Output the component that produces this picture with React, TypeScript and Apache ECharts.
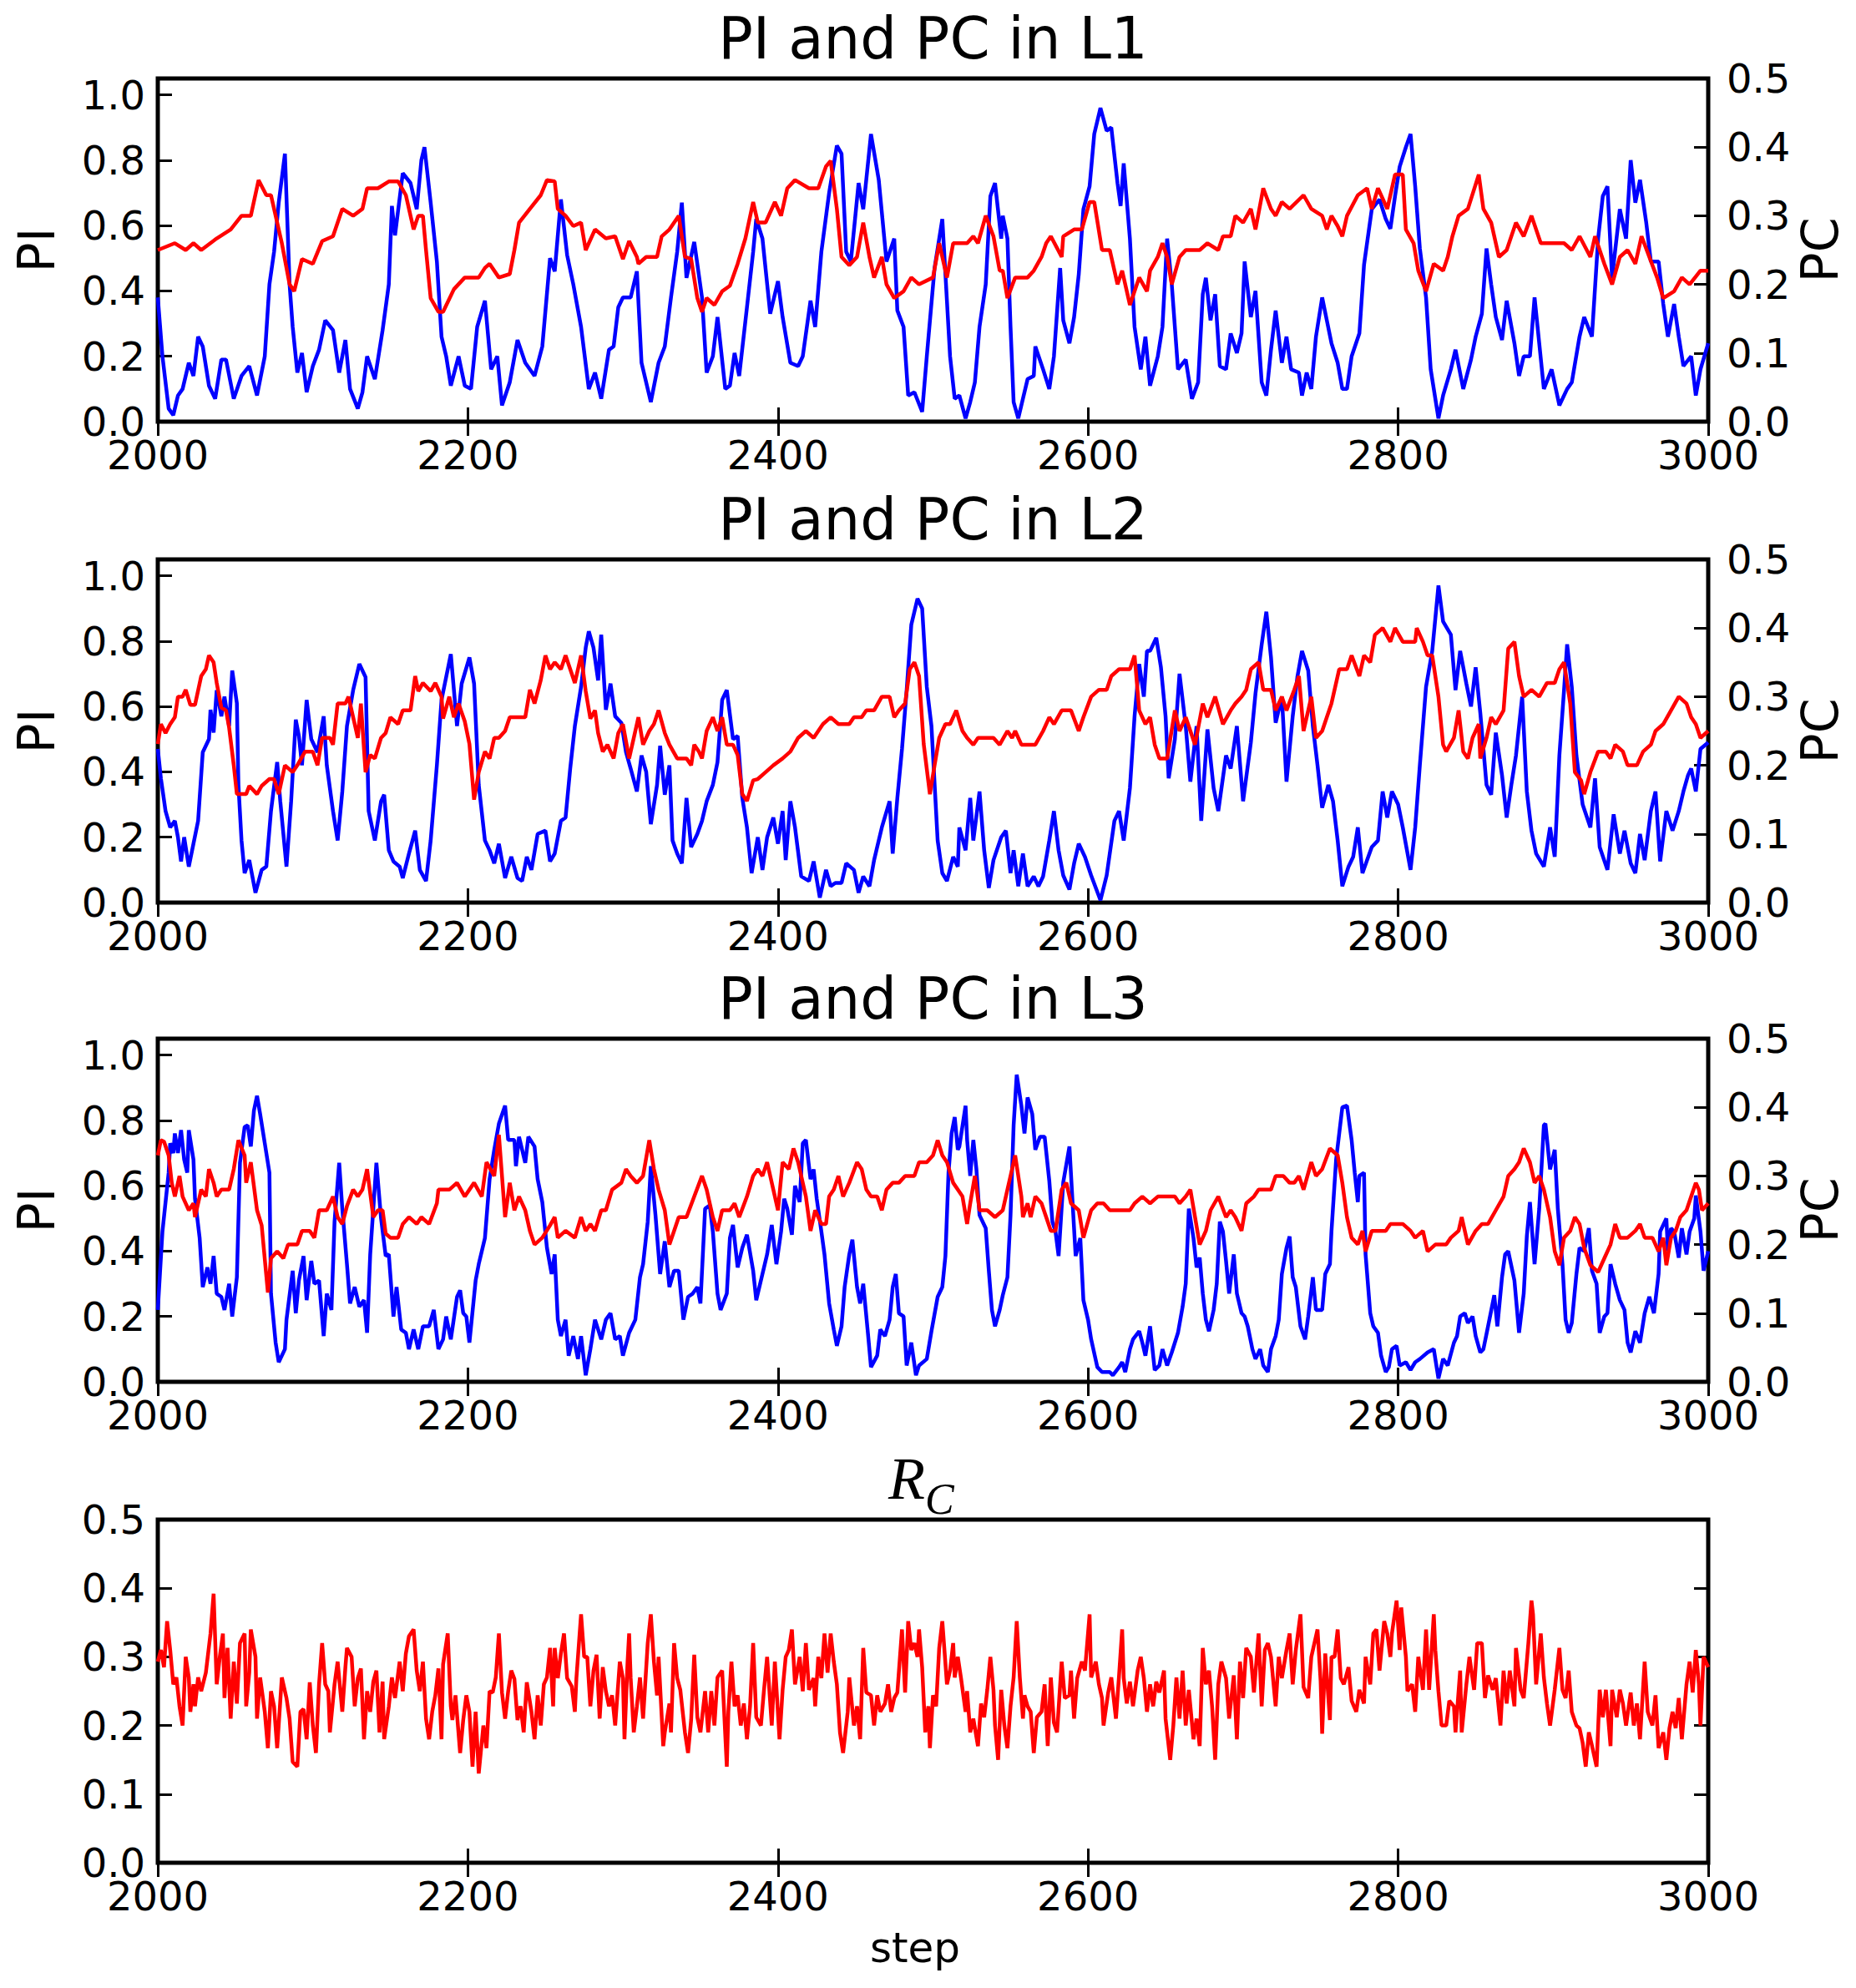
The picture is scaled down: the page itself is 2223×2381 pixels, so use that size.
import React, { useEffect, useRef } from "react";
import * as echarts from "echarts";

type P = [number, number];

// ---- Panel titles / labels ----
const TITLES = ["PI and PC in L1", "PI and PC in L2", "PI and PC in L3"];
const LEFT_LABEL = "PI";
const RIGHT_LABEL = "PC";
const X_LABEL = "step";

// ---- L1 ----
const L1_PI: P[] = [
  [2000,0.38],[2003,0.2],[2007,0.04],[2010,0.02],[2013,0.08],[2016,0.10],[2020,0.18],[2023,0.14],[2026,0.26],[2029,0.23],
  [2033,0.11],[2037,0.07],[2041,0.19],[2044,0.19],[2049,0.07],[2054,0.14],[2059,0.17],[2064,0.08],[2069,0.2],[2072,0.42],
  [2075,0.52],[2078,0.67],[2082,0.82],[2085,0.42],[2087,0.29],[2090,0.15],[2093,0.21],[2096,0.09],[2100,0.17],[2104,0.22],
  [2108,0.31],[2113,0.28],[2117,0.15],[2121,0.25],[2124,0.1],[2129,0.04],[2132,0.09],[2135,0.2],[2140,0.13],[2145,0.28],
  [2149,0.42],[2151,0.66],[2153,0.57],[2158,0.76],[2163,0.73],[2167,0.65],[2170,0.80],[2172,0.84],[2176,0.67],[2180,0.49],
  [2183,0.26],[2186,0.2],[2189,0.11],[2194,0.2],[2198,0.11],[2202,0.1],[2206,0.29],[2211,0.37],[2215,0.16],[2219,0.2],
  [2222,0.05],[2227,0.12],[2232,0.25],[2237,0.18],[2243,0.14],[2248,0.23],[2253,0.5],[2256,0.46],[2260,0.68],[2264,0.51],
  [2268,0.42],[2273,0.29],[2278,0.1],[2282,0.15],[2286,0.07],[2291,0.22],[2294,0.23],[2297,0.35],[2300,0.38],[2305,0.38],
  [2309,0.46],[2312,0.18],[2318,0.06],[2323,0.18],[2327,0.23],[2331,0.38],[2335,0.52],[2338,0.67],[2341,0.44],[2346,0.55],
  [2351,0.38],[2354,0.15],[2358,0.2],[2361,0.32],[2366,0.1],[2369,0.11],[2372,0.21],[2375,0.14],[2380,0.35],[2384,0.52],
  [2386,0.62],[2390,0.56],[2395,0.33],[2400,0.43],[2403,0.32],[2408,0.18],[2413,0.17],[2416,0.2],[2421,0.37],[2424,0.29],
  [2428,0.52],[2433,0.70],[2438,0.845],[2441,0.82],[2444,0.52],[2447,0.49],[2452,0.73],[2455,0.65],[2460,0.88],[2465,0.74],
  [2470,0.49],[2475,0.56],[2477,0.34],[2481,0.29],[2484,0.08],[2488,0.09],[2493,0.03],[2496,0.2],[2501,0.47],[2506,0.62],
  [2511,0.2],[2514,0.07],[2517,0.08],[2521,0.01],[2524,0.06],[2527,0.12],[2530,0.29],[2534,0.42],[2537,0.69],[2540,0.73],
  [2544,0.56],[2545,0.63],[2548,0.56],[2550,0.29],[2552,0.06],[2555,0.01],[2558,0.07],[2561,0.13],[2565,0.14],[2566,0.23],
  [2571,0.16],[2575,0.1],[2578,0.2],[2582,0.47],[2584,0.31],[2588,0.24],[2591,0.32],[2594,0.45],[2597,0.65],[2601,0.72],
  [2604,0.88],[2608,0.96],[2612,0.89],[2615,0.90],[2619,0.73],[2621,0.66],[2623,0.79],[2627,0.56],[2630,0.29],[2634,0.16],
  [2637,0.26],[2640,0.11],[2645,0.2],[2648,0.29],[2651,0.56],[2654,0.42],[2658,0.16],[2663,0.19],[2667,0.07],[2671,0.12],
  [2674,0.39],[2676,0.44],[2679,0.31],[2682,0.39],[2685,0.17],[2689,0.16],[2692,0.27],[2696,0.21],[2699,0.27],[2701,0.49],
  [2705,0.32],[2708,0.40],[2712,0.12],[2715,0.08],[2718,0.22],[2721,0.34],[2725,0.18],[2728,0.26],[2731,0.16],[2736,0.15],
  [2738,0.08],[2741,0.15],[2744,0.1],[2747,0.26],[2751,0.38],[2754,0.31],[2757,0.24],[2761,0.18],[2764,0.1],[2767,0.1],
  [2770,0.2],[2775,0.27],[2778,0.48],[2783,0.65],[2788,0.68],[2792,0.62],[2795,0.59],[2798,0.69],[2801,0.78],[2805,0.84],
  [2808,0.88],[2811,0.72],[2814,0.53],[2818,0.38],[2821,0.16],[2826,0.01],[2829,0.08],[2834,0.16],[2837,0.22],[2842,0.1],
  [2847,0.19],[2850,0.26],[2854,0.33],[2857,0.53],[2860,0.42],[2863,0.32],[2867,0.25],[2870,0.37],[2875,0.24],[2878,0.14],
  [2881,0.2],[2885,0.2],[2888,0.38],[2891,0.24],[2894,0.1],[2899,0.16],[2904,0.05],[2909,0.1],[2912,0.12],[2917,0.26],
  [2920,0.32],[2925,0.26],[2929,0.56],[2932,0.69],[2935,0.72],[2938,0.44],[2943,0.65],[2947,0.56],[2950,0.80],[2953,0.67],
  [2956,0.74],[2960,0.61],[2963,0.49],[2968,0.49],[2971,0.36],[2974,0.26],[2978,0.36],[2981,0.26],[2984,0.17],[2989,0.2],
  [2992,0.08],[2995,0.16],[3000,0.24]
];
const L1_PC: P[] = [
  [2000,0.25],[2011,0.26],[2018,0.25],[2023,0.26],[2028,0.25],[2038,0.267],[2047,0.28],[2054,0.30],[2060,0.30],[2065,0.352],
  [2070,0.33],[2073,0.33],[2080,0.26],[2085,0.20],[2088,0.19],[2093,0.237],[2100,0.23],[2106,0.263],[2113,0.27],[2119,0.31],
  [2126,0.30],[2132,0.31],[2135,0.34],[2142,0.34],[2149,0.35],[2155,0.35],[2160,0.33],[2165,0.28],[2168,0.30],[2171,0.30],
  [2173,0.25],[2176,0.18],[2181,0.16],[2184,0.16],[2191,0.193],[2198,0.21],[2207,0.21],[2211,0.224],[2214,0.23],[2220,0.21],
  [2227,0.215],[2230,0.25],[2233,0.29],[2240,0.31],[2247,0.33],[2251,0.352],[2256,0.35],[2258,0.31],[2263,0.30],[2268,0.285],
  [2273,0.29],[2276,0.25],[2282,0.28],[2289,0.267],[2295,0.27],[2300,0.237],[2304,0.263],[2309,0.24],[2310,0.23],[2315,0.24],
  [2322,0.24],[2325,0.27],[2330,0.28],[2336,0.30],[2340,0.24],[2344,0.237],[2348,0.18],[2351,0.16],[2354,0.18],[2359,0.17],
  [2364,0.19],[2369,0.198],[2374,0.23],[2379,0.267],[2384,0.32],[2387,0.29],[2392,0.29],[2398,0.32],[2402,0.30],[2406,0.34],
  [2411,0.352],[2420,0.34],[2426,0.34],[2431,0.372],[2434,0.38],[2438,0.31],[2441,0.24],[2446,0.228],[2451,0.24],[2455,0.29],
  [2459,0.24],[2462,0.21],[2467,0.24],[2470,0.2],[2475,0.18],[2481,0.19],[2486,0.21],[2491,0.20],[2500,0.21],[2504,0.26],
  [2509,0.21],[2513,0.26],[2522,0.26],[2526,0.27],[2529,0.26],[2534,0.30],[2539,0.27],[2543,0.22],[2545,0.22],[2548,0.18],
  [2553,0.21],[2561,0.21],[2565,0.22],[2570,0.24],[2573,0.26],[2576,0.27],[2583,0.24],[2584,0.27],[2591,0.28],[2596,0.28],
  [2601,0.32],[2604,0.32],[2609,0.25],[2614,0.25],[2619,0.20],[2622,0.22],[2627,0.17],[2633,0.21],[2638,0.19],[2640,0.22],
  [2645,0.24],[2648,0.26],[2651,0.24],[2654,0.20],[2659,0.24],[2663,0.25],[2672,0.25],[2677,0.26],[2684,0.25],[2687,0.27],
  [2692,0.27],[2695,0.30],[2700,0.29],[2705,0.31],[2708,0.28],[2713,0.34],[2718,0.31],[2721,0.30],[2725,0.32],[2730,0.31],
  [2739,0.33],[2744,0.31],[2751,0.30],[2754,0.28],[2757,0.30],[2761,0.285],[2764,0.27],[2767,0.30],[2774,0.33],[2780,0.34],
  [2783,0.31],[2787,0.34],[2793,0.31],[2798,0.36],[2803,0.36],[2805,0.28],[2810,0.26],[2813,0.22],[2818,0.19],[2823,0.23],
  [2829,0.22],[2832,0.24],[2835,0.27],[2839,0.30],[2845,0.31],[2852,0.36],[2855,0.31],[2860,0.29],[2865,0.24],[2870,0.25],
  [2876,0.29],[2881,0.27],[2886,0.30],[2892,0.26],[2899,0.26],[2907,0.26],[2912,0.25],[2917,0.27],[2924,0.24],[2927,0.27],
  [2933,0.23],[2938,0.20],[2943,0.24],[2948,0.25],[2953,0.23],[2957,0.27],[2962,0.24],[2967,0.21],[2971,0.18],[2978,0.19],
  [2983,0.21],[2988,0.20],[2995,0.22],[3000,0.22]
];

// ---- L2 ----
const L2_PI: P[] = [
  [2000,0.47],[2002,0.38],[2005,0.28],[2008,0.23],[2011,0.25],[2013,0.20],[2015,0.126],[2017,0.20],[2020,0.11],[2023,0.18],
  [2026,0.25],[2029,0.46],[2033,0.50],[2034,0.59],[2036,0.52],[2038,0.65],[2041,0.57],[2043,0.63],[2046,0.54],[2048,0.71],
  [2051,0.61],[2052,0.36],[2054,0.19],[2056,0.09],[2059,0.13],[2063,0.03],[2067,0.10],[2070,0.11],[2073,0.28],[2077,0.43],
  [2079,0.31],[2083,0.11],[2086,0.31],[2089,0.56],[2091,0.51],[2093,0.42],[2096,0.62],[2099,0.50],[2103,0.46],[2107,0.57],
  [2109,0.42],[2113,0.28],[2116,0.19],[2119,0.34],[2122,0.54],[2126,0.65],[2130,0.73],[2134,0.69],[2136,0.28],[2140,0.19],
  [2144,0.31],[2146,0.33],[2149,0.16],[2152,0.126],[2156,0.11],[2158,0.075],[2162,0.15],[2166,0.22],[2169,0.10],[2173,0.066],
  [2176,0.19],[2180,0.42],[2183,0.62],[2186,0.69],[2189,0.76],[2193,0.54],[2196,0.67],[2201,0.75],[2204,0.67],[2207,0.36],
  [2211,0.19],[2214,0.16],[2217,0.12],[2220,0.18],[2224,0.075],[2228,0.14],[2232,0.075],[2235,0.066],[2238,0.14],[2241,0.10],
  [2245,0.21],[2250,0.22],[2253,0.126],[2256,0.15],[2260,0.25],[2263,0.26],[2266,0.41],[2269,0.54],[2273,0.66],[2276,0.78],
  [2278,0.83],[2281,0.78],[2284,0.68],[2286,0.82],[2289,0.59],[2292,0.67],[2295,0.57],[2299,0.55],[2302,0.46],[2305,0.41],
  [2309,0.34],[2312,0.45],[2315,0.40],[2318,0.24],[2322,0.36],[2324,0.48],[2327,0.33],[2330,0.42],[2332,0.19],[2335,0.15],
  [2338,0.12],[2341,0.32],[2344,0.17],[2348,0.21],[2351,0.25],[2354,0.31],[2358,0.36],[2361,0.43],[2364,0.62],[2367,0.65],
  [2371,0.50],[2374,0.51],[2377,0.32],[2380,0.23],[2383,0.09],[2387,0.20],[2390,0.10],[2393,0.20],[2397,0.26],[2400,0.18],
  [2403,0.28],[2405,0.13],[2408,0.31],[2411,0.23],[2415,0.08],[2420,0.066],[2423,0.126],[2427,0.015],[2431,0.10],[2434,0.05],
  [2437,0.06],[2441,0.06],[2444,0.12],[2449,0.10],[2452,0.03],[2455,0.08],[2459,0.05],[2462,0.13],[2467,0.23],[2472,0.31],
  [2474,0.15],[2477,0.32],[2480,0.47],[2483,0.65],[2486,0.85],[2490,0.93],[2493,0.90],[2496,0.66],[2499,0.54],[2503,0.19],
  [2506,0.09],[2509,0.066],[2513,0.14],[2516,0.11],[2517,0.23],[2521,0.16],[2524,0.32],[2526,0.19],[2530,0.34],[2533,0.16],
  [2536,0.045],[2539,0.13],[2544,0.20],[2547,0.22],[2550,0.09],[2552,0.16],[2555,0.05],[2558,0.15],[2561,0.05],[2565,0.08],
  [2568,0.05],[2571,0.08],[2575,0.19],[2578,0.28],[2581,0.16],[2584,0.083],[2588,0.04],[2591,0.12],[2594,0.18],[2598,0.14],
  [2602,0.083],[2608,0.007],[2612,0.083],[2617,0.25],[2620,0.28],[2623,0.19],[2627,0.35],[2630,0.57],[2633,0.73],[2636,0.63],
  [2638,0.77],[2640,0.77],[2644,0.81],[2647,0.72],[2650,0.57],[2652,0.38],[2656,0.50],[2659,0.70],[2663,0.54],[2666,0.37],
  [2670,0.54],[2673,0.25],[2677,0.53],[2681,0.35],[2684,0.28],[2689,0.45],[2692,0.41],[2696,0.54],[2700,0.31],[2705,0.49],
  [2708,0.64],[2712,0.79],[2715,0.89],[2718,0.75],[2721,0.55],[2725,0.63],[2728,0.37],[2732,0.57],[2735,0.69],[2738,0.77],
  [2742,0.71],[2745,0.54],[2748,0.42],[2751,0.29],[2755,0.36],[2758,0.31],[2761,0.19],[2764,0.05],[2768,0.11],[2771,0.14],
  [2774,0.23],[2777,0.09],[2780,0.13],[2783,0.17],[2787,0.19],[2790,0.34],[2793,0.26],[2796,0.34],[2800,0.30],[2803,0.23],
  [2808,0.10],[2811,0.23],[2814,0.42],[2818,0.66],[2822,0.77],[2826,0.97],[2829,0.86],[2834,0.82],[2837,0.65],[2840,0.77],
  [2844,0.67],[2847,0.60],[2850,0.72],[2853,0.58],[2857,0.36],[2860,0.33],[2863,0.52],[2867,0.39],[2870,0.26],[2873,0.36],
  [2876,0.45],[2880,0.63],[2883,0.34],[2886,0.22],[2889,0.15],[2894,0.11],[2898,0.23],[2901,0.14],[2904,0.45],[2907,0.65],
  [2909,0.79],[2912,0.66],[2915,0.45],[2919,0.30],[2924,0.23],[2927,0.38],[2930,0.17],[2935,0.10],[2939,0.27],[2943,0.15],
  [2946,0.22],[2950,0.12],[2953,0.09],[2956,0.21],[2959,0.13],[2963,0.28],[2966,0.34],[2969,0.126],[2973,0.28],[2977,0.22],
  [2981,0.28],[2984,0.34],[2987,0.39],[2989,0.41],[2992,0.34],[2995,0.47],[3000,0.49]
];
const L2_PC: P[] = [
  [2000,0.231],[2002,0.26],[2005,0.247],[2008,0.26],[2011,0.27],[2013,0.30],[2016,0.30],[2018,0.31],[2021,0.288],[2024,0.288],
  [2028,0.33],[2031,0.34],[2033,0.36],[2036,0.35],[2038,0.32],[2041,0.284],[2044,0.28],[2046,0.255],[2049,0.20],[2051,0.158],
  [2057,0.158],[2059,0.17],[2064,0.158],[2067,0.17],[2072,0.18],[2075,0.18],[2078,0.158],[2082,0.20],[2087,0.19],[2090,0.20],
  [2095,0.22],[2100,0.22],[2103,0.20],[2106,0.24],[2111,0.24],[2113,0.23],[2116,0.29],[2121,0.29],[2123,0.30],[2126,0.27],
  [2129,0.24],[2131,0.29],[2134,0.19],[2137,0.215],[2140,0.21],[2144,0.24],[2147,0.247],[2150,0.27],[2155,0.26],[2158,0.28],
  [2163,0.28],[2166,0.33],[2168,0.308],[2171,0.32],[2176,0.308],[2179,0.32],[2183,0.30],[2184,0.268],[2188,0.30],[2191,0.27],
  [2194,0.29],[2198,0.264],[2201,0.231],[2204,0.15],[2207,0.19],[2211,0.22],[2214,0.21],[2217,0.24],[2220,0.24],[2224,0.25],
  [2227,0.27],[2237,0.27],[2240,0.31],[2243,0.29],[2247,0.324],[2250,0.36],[2253,0.34],[2256,0.35],[2260,0.34],[2263,0.36],
  [2266,0.34],[2269,0.32],[2273,0.36],[2276,0.308],[2279,0.268],[2282,0.28],[2284,0.247],[2287,0.22],[2290,0.23],[2294,0.21],
  [2297,0.247],[2300,0.26],[2304,0.21],[2307,0.24],[2310,0.27],[2313,0.23],[2317,0.25],[2320,0.26],[2323,0.28],[2327,0.247],
  [2330,0.23],[2335,0.21],[2341,0.21],[2344,0.20],[2346,0.23],[2349,0.22],[2351,0.21],[2354,0.25],[2358,0.27],[2361,0.25],
  [2364,0.27],[2367,0.23],[2371,0.23],[2374,0.215],[2377,0.158],[2380,0.148],[2384,0.178],[2387,0.18],[2392,0.19],[2397,0.20],
  [2403,0.21],[2408,0.22],[2413,0.24],[2418,0.25],[2423,0.24],[2426,0.25],[2429,0.26],[2434,0.27],[2439,0.26],[2446,0.26],
  [2449,0.27],[2454,0.27],[2457,0.28],[2462,0.28],[2467,0.30],[2472,0.30],[2475,0.27],[2478,0.28],[2482,0.29],[2485,0.34],
  [2488,0.35],[2491,0.33],[2494,0.231],[2498,0.158],[2501,0.20],[2504,0.24],[2508,0.26],[2511,0.26],[2515,0.28],[2519,0.25],
  [2522,0.24],[2526,0.23],[2529,0.24],[2539,0.24],[2543,0.23],[2548,0.25],[2551,0.24],[2553,0.25],[2557,0.23],[2566,0.23],
  [2571,0.25],[2575,0.27],[2578,0.26],[2583,0.28],[2589,0.28],[2594,0.25],[2597,0.27],[2602,0.30],[2607,0.31],[2612,0.31],
  [2615,0.33],[2620,0.34],[2627,0.34],[2630,0.36],[2633,0.28],[2637,0.26],[2640,0.27],[2643,0.23],[2646,0.21],[2651,0.21],
  [2656,0.28],[2659,0.25],[2663,0.27],[2666,0.25],[2669,0.23],[2674,0.29],[2677,0.27],[2682,0.30],[2687,0.26],[2692,0.28],
  [2695,0.29],[2699,0.30],[2702,0.31],[2705,0.34],[2710,0.35],[2713,0.31],[2718,0.31],[2721,0.28],[2725,0.30],[2728,0.28],
  [2733,0.31],[2736,0.33],[2739,0.25],[2744,0.30],[2747,0.24],[2751,0.25],[2754,0.27],[2757,0.29],[2762,0.34],[2767,0.34],
  [2770,0.36],[2775,0.33],[2778,0.36],[2782,0.35],[2785,0.39],[2790,0.40],[2795,0.38],[2798,0.40],[2803,0.38],[2811,0.38],
  [2812,0.40],[2816,0.38],[2819,0.36],[2822,0.36],[2826,0.30],[2829,0.23],[2831,0.22],[2836,0.24],[2839,0.28],[2842,0.22],
  [2845,0.21],[2848,0.24],[2852,0.26],[2853,0.21],[2857,0.24],[2860,0.27],[2863,0.26],[2868,0.28],[2871,0.37],[2875,0.38],
  [2878,0.33],[2881,0.30],[2886,0.31],[2891,0.30],[2896,0.32],[2901,0.32],[2904,0.34],[2907,0.35],[2911,0.29],[2914,0.19],
  [2918,0.178],[2920,0.158],[2924,0.19],[2929,0.22],[2934,0.22],[2937,0.21],[2940,0.23],[2945,0.22],[2948,0.20],[2954,0.20],
  [2958,0.22],[2963,0.23],[2966,0.25],[2971,0.26],[2976,0.28],[2981,0.30],[2986,0.29],[2989,0.27],[2992,0.26],[2995,0.24],
  [3000,0.25]
];

// ---- L3 ----
const L3_PI: P[] = [
  [2000,0.22],[2003,0.46],[2007,0.64],[2008,0.73],[2010,0.70],[2011,0.76],[2013,0.70],[2015,0.77],[2017,0.68],[2019,0.64],
  [2020,0.77],[2023,0.68],[2024,0.56],[2027,0.44],[2029,0.29],[2032,0.35],[2034,0.30],[2036,0.385],[2038,0.27],[2041,0.26],
  [2043,0.22],[2046,0.30],[2048,0.20],[2051,0.32],[2053,0.67],[2056,0.78],[2058,0.785],[2060,0.72],[2062,0.83],[2064,0.875],
  [2066,0.82],[2069,0.73],[2072,0.64],[2073,0.27],[2076,0.12],[2078,0.06],[2082,0.10],[2083,0.19],[2087,0.34],[2089,0.21],
  [2091,0.31],[2094,0.385],[2096,0.25],[2099,0.37],[2101,0.30],[2104,0.31],[2107,0.14],[2109,0.27],[2112,0.22],[2114,0.49],
  [2117,0.67],[2119,0.53],[2122,0.36],[2124,0.24],[2127,0.29],[2130,0.23],[2133,0.25],[2135,0.15],[2137,0.39],[2139,0.53],
  [2141,0.67],[2144,0.50],[2147,0.385],[2149,0.39],[2152,0.20],[2154,0.29],[2157,0.16],[2160,0.15],[2162,0.10],[2165,0.16],
  [2168,0.10],[2171,0.17],[2175,0.17],[2178,0.22],[2181,0.10],[2184,0.13],[2186,0.20],[2189,0.13],[2193,0.26],[2195,0.28],
  [2197,0.21],[2199,0.20],[2201,0.12],[2205,0.31],[2207,0.36],[2211,0.44],[2214,0.62],[2217,0.71],[2220,0.79],[2224,0.845],
  [2226,0.74],[2230,0.74],[2231,0.66],[2233,0.75],[2237,0.67],[2239,0.75],[2243,0.72],[2245,0.62],[2248,0.55],[2251,0.41],
  [2254,0.33],[2256,0.39],[2258,0.19],[2260,0.14],[2263,0.19],[2265,0.08],[2268,0.14],[2271,0.07],[2273,0.14],[2276,0.02],
  [2279,0.10],[2282,0.19],[2286,0.13],[2289,0.19],[2292,0.21],[2295,0.13],[2298,0.14],[2300,0.08],[2304,0.15],[2308,0.19],
  [2311,0.32],[2313,0.36],[2316,0.49],[2318,0.66],[2321,0.51],[2324,0.33],[2327,0.43],[2330,0.29],[2333,0.34],[2336,0.34],
  [2339,0.19],[2342,0.26],[2345,0.27],[2348,0.29],[2350,0.24],[2353,0.53],[2356,0.54],[2358,0.46],[2361,0.27],[2363,0.22],
  [2367,0.27],[2369,0.44],[2371,0.48],[2374,0.35],[2377,0.41],[2380,0.45],[2384,0.34],[2386,0.25],[2390,0.33],[2393,0.39],
  [2396,0.48],[2399,0.36],[2402,0.46],[2404,0.56],[2406,0.53],[2409,0.45],[2411,0.60],[2414,0.55],[2416,0.73],[2418,0.74],
  [2421,0.62],[2423,0.65],[2425,0.56],[2428,0.46],[2430,0.39],[2433,0.24],[2436,0.16],[2438,0.11],[2441,0.17],[2443,0.29],
  [2446,0.39],[2448,0.435],[2451,0.29],[2453,0.24],[2455,0.30],[2458,0.15],[2460,0.045],[2464,0.08],[2466,0.16],[2469,0.14],
  [2472,0.19],[2474,0.29],[2476,0.33],[2478,0.21],[2481,0.20],[2483,0.05],[2486,0.12],[2489,0.02],[2491,0.05],[2496,0.07],
  [2499,0.155],[2503,0.26],[2506,0.29],[2508,0.385],[2510,0.64],[2512,0.76],[2514,0.81],[2516,0.71],[2517,0.72],[2521,0.845],
  [2522,0.74],[2524,0.63],[2526,0.74],[2528,0.65],[2530,0.51],[2534,0.47],[2536,0.34],[2538,0.22],[2540,0.17],[2543,0.22],
  [2545,0.265],[2548,0.32],[2550,0.51],[2552,0.785],[2554,0.94],[2557,0.845],[2559,0.76],[2561,0.87],[2564,0.82],[2566,0.71],
  [2569,0.75],[2572,0.75],[2575,0.615],[2577,0.49],[2579,0.46],[2581,0.385],[2584,0.61],[2588,0.72],[2590,0.55],[2592,0.385],
  [2595,0.44],[2597,0.25],[2600,0.19],[2602,0.13],[2606,0.045],[2609,0.03],[2614,0.03],[2616,0.02],[2620,0.045],[2622,0.06],
  [2624,0.03],[2627,0.10],[2629,0.13],[2633,0.155],[2635,0.12],[2637,0.08],[2640,0.17],[2643,0.036],[2646,0.05],[2648,0.10],
  [2651,0.05],[2654,0.09],[2658,0.15],[2661,0.23],[2663,0.30],[2665,0.53],[2668,0.44],[2670,0.35],[2672,0.38],[2674,0.27],
  [2676,0.19],[2678,0.155],[2681,0.22],[2683,0.30],[2685,0.49],[2687,0.46],[2689,0.37],[2691,0.27],[2694,0.39],[2696,0.27],
  [2699,0.21],[2701,0.20],[2703,0.17],[2706,0.10],[2708,0.07],[2711,0.10],[2713,0.05],[2716,0.03],[2718,0.10],[2721,0.14],
  [2723,0.19],[2725,0.33],[2728,0.41],[2730,0.445],[2732,0.32],[2734,0.29],[2737,0.17],[2740,0.13],[2742,0.20],[2745,0.32],
  [2747,0.22],[2751,0.22],[2753,0.33],[2756,0.36],[2757,0.46],[2760,0.68],[2762,0.76],[2764,0.84],[2767,0.845],[2770,0.74],
  [2772,0.64],[2774,0.55],[2775,0.63],[2778,0.64],[2779,0.39],[2782,0.21],[2784,0.17],[2787,0.15],[2789,0.08],[2792,0.03],
  [2794,0.045],[2796,0.10],[2799,0.11],[2801,0.05],[2805,0.06],[2808,0.036],[2811,0.06],[2814,0.07],[2819,0.09],[2823,0.10],
  [2826,0.01],[2829,0.07],[2832,0.05],[2836,0.12],[2838,0.14],[2840,0.20],[2843,0.21],[2845,0.18],[2848,0.20],[2850,0.14],
  [2853,0.09],[2855,0.10],[2858,0.17],[2862,0.265],[2864,0.17],[2867,0.32],[2869,0.39],[2871,0.40],[2875,0.31],[2878,0.15],
  [2881,0.27],[2883,0.445],[2885,0.55],[2888,0.36],[2891,0.53],[2894,0.785],[2895,0.79],[2898,0.65],[2901,0.71],[2903,0.53],
  [2906,0.36],[2908,0.19],[2910,0.15],[2912,0.18],[2915,0.33],[2917,0.41],[2920,0.40],[2923,0.47],[2925,0.34],[2928,0.30],
  [2930,0.15],[2933,0.20],[2935,0.21],[2937,0.36],[2940,0.30],[2943,0.25],[2946,0.22],[2948,0.12],[2950,0.09],[2953,0.155],
  [2956,0.12],[2959,0.21],[2962,0.26],[2965,0.21],[2968,0.33],[2969,0.46],[2973,0.50],[2974,0.40],[2976,0.47],[2978,0.46],
  [2981,0.38],[2983,0.47],[2986,0.39],[2988,0.46],[2991,0.50],[2992,0.57],[2995,0.46],[2997,0.34],[3000,0.40]
];
const L3_PC: P[] = [
  [2000,0.33],[2002,0.352],[2004,0.35],[2007,0.33],[2009,0.29],[2011,0.27],[2014,0.30],[2016,0.27],[2020,0.25],[2023,0.26],
  [2024,0.24],[2028,0.28],[2031,0.27],[2033,0.31],[2036,0.29],[2038,0.27],[2041,0.28],[2046,0.28],[2049,0.31],[2052,0.352],
  [2056,0.33],[2057,0.29],[2060,0.32],[2064,0.25],[2067,0.228],[2071,0.13],[2073,0.18],[2077,0.19],[2081,0.18],[2084,0.20],
  [2090,0.20],[2093,0.22],[2098,0.22],[2101,0.21],[2104,0.25],[2109,0.25],[2113,0.27],[2116,0.24],[2119,0.23],[2122,0.256],
  [2126,0.28],[2129,0.27],[2132,0.28],[2135,0.31],[2139,0.24],[2142,0.25],[2145,0.25],[2147,0.216],[2150,0.21],[2155,0.21],
  [2158,0.23],[2162,0.24],[2167,0.23],[2170,0.24],[2175,0.23],[2180,0.26],[2181,0.28],[2188,0.28],[2193,0.29],[2198,0.27],
  [2204,0.29],[2209,0.27],[2212,0.32],[2217,0.30],[2220,0.36],[2224,0.24],[2227,0.29],[2230,0.25],[2233,0.27],[2237,0.25],
  [2240,0.22],[2243,0.20],[2248,0.21],[2253,0.228],[2256,0.24],[2258,0.21],[2263,0.22],[2269,0.21],[2273,0.24],[2276,0.22],
  [2279,0.23],[2282,0.22],[2286,0.25],[2289,0.25],[2293,0.28],[2299,0.29],[2302,0.31],[2305,0.30],[2309,0.29],[2313,0.30],
  [2317,0.352],[2320,0.31],[2323,0.28],[2327,0.25],[2330,0.20],[2333,0.22],[2336,0.24],[2341,0.24],[2346,0.27],[2351,0.30],
  [2354,0.28],[2358,0.24],[2361,0.22],[2364,0.25],[2369,0.25],[2372,0.26],[2375,0.24],[2380,0.27],[2384,0.30],[2387,0.31],
  [2390,0.30],[2393,0.32],[2397,0.28],[2400,0.25],[2403,0.32],[2407,0.31],[2410,0.34],[2413,0.32],[2418,0.27],[2421,0.22],
  [2424,0.25],[2428,0.23],[2431,0.23],[2433,0.27],[2436,0.28],[2439,0.30],[2442,0.27],[2446,0.29],[2451,0.32],[2454,0.31],
  [2457,0.28],[2460,0.27],[2464,0.27],[2467,0.25],[2470,0.28],[2474,0.29],[2478,0.29],[2482,0.30],[2488,0.30],[2491,0.32],
  [2496,0.32],[2500,0.33],[2503,0.352],[2506,0.33],[2509,0.32],[2513,0.29],[2516,0.28],[2519,0.27],[2522,0.23],[2524,0.26],
  [2527,0.30],[2530,0.25],[2535,0.25],[2540,0.24],[2545,0.25],[2548,0.28],[2551,0.31],[2553,0.33],[2557,0.27],[2558,0.24],
  [2561,0.26],[2563,0.24],[2566,0.27],[2570,0.26],[2573,0.24],[2576,0.22],[2579,0.22],[2583,0.28],[2586,0.29],[2589,0.26],
  [2594,0.25],[2597,0.21],[2602,0.25],[2606,0.26],[2610,0.26],[2614,0.25],[2627,0.25],[2630,0.26],[2635,0.27],[2640,0.26],
  [2645,0.27],[2656,0.27],[2659,0.26],[2663,0.27],[2666,0.28],[2669,0.24],[2672,0.20],[2676,0.22],[2679,0.25],[2684,0.27],
  [2689,0.24],[2692,0.25],[2695,0.24],[2699,0.22],[2702,0.26],[2707,0.27],[2710,0.28],[2718,0.28],[2721,0.30],[2726,0.30],
  [2730,0.29],[2733,0.29],[2736,0.30],[2739,0.28],[2744,0.32],[2747,0.30],[2751,0.31],[2756,0.34],[2761,0.33],[2764,0.29],
  [2767,0.24],[2770,0.21],[2774,0.20],[2777,0.22],[2779,0.19],[2783,0.22],[2792,0.22],[2795,0.23],[2803,0.23],[2808,0.22],
  [2811,0.21],[2816,0.22],[2819,0.19],[2824,0.20],[2831,0.20],[2834,0.21],[2839,0.22],[2841,0.24],[2845,0.20],[2850,0.22],
  [2854,0.23],[2858,0.23],[2863,0.25],[2868,0.27],[2871,0.30],[2875,0.31],[2878,0.32],[2881,0.34],[2885,0.32],[2888,0.29],
  [2891,0.30],[2894,0.28],[2898,0.24],[2901,0.19],[2904,0.17],[2907,0.21],[2911,0.22],[2914,0.24],[2917,0.23],[2920,0.195],
  [2924,0.17],[2929,0.16],[2933,0.18],[2937,0.20],[2940,0.23],[2943,0.21],[2948,0.21],[2953,0.22],[2956,0.23],[2959,0.21],
  [2964,0.21],[2968,0.19],[2971,0.21],[2973,0.17],[2976,0.21],[2979,0.22],[2982,0.24],[2986,0.25],[2989,0.27],[2992,0.29],
  [2994,0.28],[2996,0.25],[3000,0.26]
];

// ---- R_C ----
const RC: P[] = [
  [2000,0.293],[2002,0.31],[2004,0.285],[2006,0.352],[2008,0.31],[2010,0.26],[2012,0.27],[2014,0.228],[2016,0.20],[2018,0.30],
  [2020,0.27],[2021,0.22],[2023,0.26],[2024,0.228],[2026,0.27],[2028,0.25],[2031,0.277],[2034,0.334],[2036,0.392],[2038,0.26],
  [2040,0.30],[2042,0.334],[2043,0.24],[2045,0.313],[2047,0.21],[2049,0.293],[2051,0.232],[2053,0.32],[2056,0.334],[2057,0.228],
  [2059,0.277],[2060,0.34],[2063,0.30],[2064,0.21],[2066,0.27],[2069,0.22],[2071,0.167],[2073,0.25],[2075,0.228],[2077,0.167],
  [2080,0.27],[2083,0.24],[2085,0.21],[2087,0.147],[2090,0.14],[2092,0.22],[2094,0.224],[2096,0.18],[2098,0.263],[2100,0.20],
  [2102,0.16],[2104,0.26],[2106,0.32],[2108,0.26],[2110,0.25],[2111,0.19],[2114,0.26],[2116,0.293],[2119,0.22],[2121,0.285],
  [2122,0.313],[2125,0.30],[2127,0.228],[2129,0.269],[2131,0.283],[2133,0.18],[2135,0.25],[2137,0.22],[2139,0.264],[2141,0.28],
  [2143,0.19],[2145,0.264],[2146,0.18],[2149,0.228],[2151,0.27],[2153,0.24],[2156,0.293],[2158,0.25],[2160,0.305],[2162,0.33],
  [2165,0.34],[2167,0.28],[2169,0.25],[2171,0.293],[2173,0.21],[2175,0.18],[2177,0.22],[2179,0.244],[2181,0.283],[2183,0.18],
  [2184,0.289],[2187,0.334],[2189,0.228],[2190,0.208],[2192,0.244],[2195,0.16],[2197,0.208],[2199,0.244],[2201,0.22],[2203,0.14],
  [2205,0.22],[2207,0.13],[2210,0.20],[2212,0.167],[2214,0.25],[2216,0.248],[2218,0.27],[2220,0.334],[2222,0.248],[2224,0.21],
  [2226,0.25],[2228,0.28],[2230,0.268],[2232,0.208],[2234,0.228],[2236,0.19],[2238,0.263],[2241,0.22],[2243,0.18],[2245,0.244],
  [2247,0.20],[2249,0.26],[2251,0.27],[2253,0.313],[2255,0.228],[2256,0.313],[2258,0.269],[2260,0.305],[2262,0.334],[2264,0.269],
  [2267,0.257],[2269,0.22],[2270,0.269],[2273,0.362],[2275,0.30],[2277,0.30],[2279,0.228],[2281,0.28],[2283,0.303],[2285,0.21],
  [2287,0.285],[2289,0.25],[2291,0.228],[2293,0.244],[2295,0.20],[2298,0.293],[2300,0.269],[2301,0.18],[2303,0.293],[2304,0.334],
  [2305,0.269],[2307,0.19],[2309,0.228],[2311,0.27],[2313,0.21],[2316,0.32],[2318,0.362],[2320,0.293],[2322,0.244],[2323,0.30],
  [2326,0.17],[2327,0.19],[2330,0.232],[2331,0.19],[2333,0.32],[2335,0.269],[2337,0.252],[2340,0.19],[2342,0.16],[2344,0.208],
  [2346,0.303],[2348,0.212],[2350,0.19],[2353,0.25],[2355,0.19],[2357,0.25],[2359,0.20],[2361,0.27],[2364,0.28],[2367,0.14],
  [2368,0.22],[2370,0.293],[2372,0.228],[2374,0.244],[2376,0.20],[2378,0.232],[2380,0.18],[2382,0.228],[2384,0.32],[2386,0.212],
  [2389,0.20],[2391,0.252],[2393,0.30],[2396,0.20],[2398,0.293],[2401,0.18],[2403,0.252],[2405,0.30],[2407,0.31],[2409,0.34],
  [2411,0.26],[2414,0.30],[2416,0.25],[2418,0.32],[2420,0.252],[2423,0.269],[2424,0.228],[2426,0.30],[2428,0.269],[2430,0.334],
  [2432,0.277],[2434,0.334],[2436,0.293],[2438,0.26],[2440,0.19],[2442,0.16],[2445,0.22],[2446,0.27],[2449,0.20],[2451,0.228],
  [2453,0.18],[2455,0.313],[2457,0.248],[2460,0.244],[2462,0.20],[2464,0.244],[2466,0.22],[2469,0.232],[2471,0.26],[2473,0.22],
  [2475,0.24],[2477,0.248],[2480,0.34],[2482,0.248],[2484,0.352],[2486,0.31],[2488,0.32],[2490,0.30],[2491,0.34],[2493,0.285],
  [2495,0.19],[2497,0.228],[2498,0.167],[2500,0.244],[2502,0.228],[2504,0.313],[2506,0.352],
  [2509,0.26],[2511,0.28],[2513,0.32],[2514,0.27],[2516,0.30],[2518,0.27],[2521,0.22],[2522,0.25],[2524,0.19],[2526,0.21],
  [2529,0.17],[2531,0.232],[2533,0.212],[2535,0.252],[2537,0.30],[2539,0.252],[2540,0.20],[2542,0.15],[2544,0.252],[2546,0.20],
  [2548,0.167],[2550,0.228],[2552,0.27],[2554,0.352],[2556,0.27],[2558,0.21],[2559,0.244],[2561,0.228],[2563,0.22],[2565,0.16],
  [2567,0.212],[2570,0.22],[2572,0.26],[2574,0.17],[2576,0.27],[2578,0.204],[2580,0.19],[2583,0.293],[2585,0.24],[2588,0.244],
  [2589,0.28],[2591,0.21],[2593,0.269],[2596,0.293],[2598,0.28],[2601,0.362],[2602,0.27],[2605,0.293],[2607,0.26],[2609,0.24],
  [2610,0.20],[2613,0.248],[2615,0.27],[2618,0.21],[2620,0.273],[2622,0.34],[2623,0.269],[2625,0.232],[2627,0.264],[2629,0.228],
  [2632,0.28],[2634,0.30],[2636,0.269],[2638,0.22],[2640,0.26],[2642,0.228],[2644,0.264],[2646,0.248],[2649,0.28],[2650,0.21],
  [2653,0.15],[2655,0.20],[2657,0.27],[2659,0.21],[2661,0.28],[2663,0.20],[2665,0.252],[2668,0.18],[2670,0.21],[2672,0.17],
  [2674,0.313],[2676,0.26],[2678,0.28],[2680,0.228],[2682,0.15],[2684,0.26],[2686,0.293],[2689,0.269],[2691,0.21],[2694,0.273],
  [2696,0.18],[2698,0.293],[2700,0.24],[2702,0.313],[2705,0.30],[2707,0.248],[2710,0.334],[2712,0.228],[2714,0.31],[2716,0.32],
  [2718,0.30],[2721,0.228],[2723,0.30],[2725,0.269],[2728,0.31],[2730,0.334],[2732,0.26],[2734,0.31],[2737,0.362],[2739,0.256],
  [2742,0.24],[2744,0.30],[2746,0.32],[2748,0.34],[2750,0.265],[2751,0.188],[2753,0.305],[2756,0.208],[2757,0.30],[2759,0.30],
  [2761,0.34],[2763,0.269],[2765,0.26],[2768,0.285],[2770,0.236],[2773,0.22],[2775,0.252],[2778,0.232],[2779,0.30],[2782,0.26],
  [2784,0.334],[2786,0.34],[2788,0.28],[2791,0.352],[2793,0.334],[2795,0.30],[2796,0.334],[2799,0.382],[2801,0.31],[2802,0.372],
  [2805,0.30],[2806,0.25],[2809,0.26],[2811,0.22],[2813,0.30],[2816,0.252],[2818,0.34],[2820,0.252],[2823,0.362],[2824,0.31],
  [2826,0.25],[2828,0.20],[2831,0.20],[2833,0.236],[2836,0.228],[2837,0.19],[2840,0.28],[2841,0.19],[2844,0.26],[2846,0.30],
  [2849,0.252],[2851,0.32],[2854,0.32],[2856,0.24],[2858,0.273],[2861,0.252],[2863,0.269],[2866,0.20],[2868,0.28],[2870,0.232],
  [2872,0.28],[2875,0.228],[2876,0.313],[2879,0.252],[2881,0.24],[2884,0.32],[2886,0.382],[2887,0.362],[2889,0.26],[2892,0.334],
  [2894,0.27],[2896,0.232],[2898,0.20],[2901,0.252],[2904,0.313],[2906,0.252],[2908,0.24],[2910,0.28],[2912,0.22],[2915,0.20],
  [2917,0.196],[2919,0.175],[2921,0.14],[2923,0.19],[2925,0.171],[2928,0.14],[2930,0.252],[2932,0.212],[2934,0.252],[2937,0.17],
  [2938,0.252],[2941,0.212],[2943,0.252],[2945,0.232],[2947,0.20],[2950,0.248],[2952,0.20],[2954,0.232],[2956,0.18],[2959,0.293],
  [2961,0.22],[2964,0.20],[2966,0.244],[2968,0.167],[2971,0.19],[2973,0.15],[2975,0.196],[2977,0.22],[2979,0.196],[2981,0.24],
  [2983,0.18],[2986,0.26],[2988,0.293],[2990,0.248],[2992,0.31],[2994,0.26],[2995,0.20],[2997,0.30],[3000,0.285]
];

const PANELS: { pi: P[]; pc: P[] }[] = [
  { pi: L1_PI, pc: L1_PC },
  { pi: L2_PI, pc: L2_PC },
  { pi: L3_PI, pc: L3_PC },
];

const W = 2223;
const H = 2381;
const FONT = "DejaVu Sans";
const GRID_LEFT = 189;
const GRID_W = 1857;
const GRID_H = 411;
const GRID_TOPS = [94, 670, 1244, 1820];
const BLUE = "#0000ff";
const RED = "#ff0000";

export default function App() {
  const ref = useRef<HTMLDivElement>(null);

  useEffect(() => {
    if (!ref.current) return;
    const chart = echarts.init(ref.current, null, { renderer: "svg", width: W, height: H });

    const tick = { show: true, inside: true, length: 17, lineStyle: { color: "#000", width: 3 } };
    const lbl = { color: "#000", fontSize: 48, fontFamily: FONT };
    const fmt1 = (v: number) => v.toFixed(1);

    const grid = GRID_TOPS.map((t) => ({
      left: GRID_LEFT, top: t, width: GRID_W, height: GRID_H,
      show: true, borderColor: "#000", borderWidth: 5, backgroundColor: "rgba(0,0,0,0)",
    }));

    const xBase = { type: "value", min: 2000, max: 3000, interval: 200, axisLine: { show: false }, splitLine: { show: false } };
    const xAxis: any[] = [];
    GRID_TOPS.forEach((_, i) => xAxis.push({ ...xBase, gridIndex: i, position: "bottom", axisTick: tick,
      axisLabel: { ...lbl, margin: 16, formatter: (v: number) => String(v) } }));
    GRID_TOPS.forEach((_, i) => xAxis.push({ ...xBase, gridIndex: i, position: "top", axisTick: tick, axisLabel: { show: false } }));

    const yBase = { type: "value", axisLine: { show: false }, splitLine: { show: false }, axisTick: tick };
    const yAxis: any[] = [];
    for (let i = 0; i < 3; i++) yAxis.push({ ...yBase, gridIndex: i, position: "left", min: 0, max: 1.05, interval: 0.2,
      axisLabel: { ...lbl, margin: 15, showMaxLabel: false, formatter: fmt1 } });
    for (let i = 0; i < 3; i++) yAxis.push({ ...yBase, gridIndex: i, position: "right", min: 0, max: 0.5, interval: 0.1,
      axisLabel: { ...lbl, margin: 22, formatter: fmt1 } });
    yAxis.push({ ...yBase, gridIndex: 3, position: "left", min: 0, max: 0.5, interval: 0.1,
      axisLabel: { ...lbl, margin: 15, formatter: fmt1 } });
    yAxis.push({ ...yBase, gridIndex: 3, position: "right", min: 0, max: 0.5, interval: 0.1, axisLabel: { show: false } });

    const line = (data: P[], color: string, xi: number, yi: number) => ({
      type: "line", data, xAxisIndex: xi, yAxisIndex: yi, showSymbol: false, symbol: "none",
      lineStyle: { color, width: 4.5 }, itemStyle: { color }, silent: true, clip: true,
    });
    const series: any[] = [];
    PANELS.forEach((p, i) => {
      series.push(line(p.pi, BLUE, i, i));
      series.push(line(p.pc, RED, i, 3 + i));
    });
    series.push(line(RC, RED, 3, 6));

    const cx = GRID_LEFT + GRID_W / 2;
    const graphic: any[] = [];
    TITLES.forEach((t, i) => graphic.push({ type: "text", x: cx, y: GRID_TOPS[i] - 48,
      style: { text: t, fontSize: 69, fontFamily: FONT, fill: "#000", align: "center", verticalAlign: "middle" } }));
    for (let i = 0; i < 3; i++) {
      const cy = GRID_TOPS[i] + GRID_H / 2;
      graphic.push({ type: "text", x: 44, y: cy, rotation: Math.PI / 2,
        style: { text: LEFT_LABEL, fontSize: 60, fontFamily: FONT, fill: "#000", align: "center", verticalAlign: "middle" } });
      graphic.push({ type: "text", x: 2180, y: cy, rotation: Math.PI / 2,
        style: { text: RIGHT_LABEL, fontSize: 60, fontFamily: FONT, fill: "#000", align: "center", verticalAlign: "middle" } });
    }
    graphic.push({ type: "text", x: 1064, y: 1771,
      style: { text: "R", fontSize: 72, fontStyle: "italic", fontFamily: "Liberation Serif", fill: "#000", align: "left", verticalAlign: "middle" } });
    graphic.push({ type: "text", x: 1108, y: 1795,
      style: { text: "C", fontSize: 52, fontStyle: "italic", fontFamily: "Liberation Serif", fill: "#000", align: "left", verticalAlign: "middle" } });
    graphic.push({ type: "text", x: 1096, y: 2333,
      style: { text: X_LABEL, fontSize: 50, fontFamily: FONT, fill: "#000", align: "center", verticalAlign: "middle" } });

    chart.setOption({
      animation: false,
      backgroundColor: "#fff",
      grid, xAxis, yAxis, series, graphic,
    });
    return () => chart.dispose();
  }, []);

  return <div ref={ref} style={{ position: "absolute", left: 0, top: 0, width: W, height: H }} />;
}
